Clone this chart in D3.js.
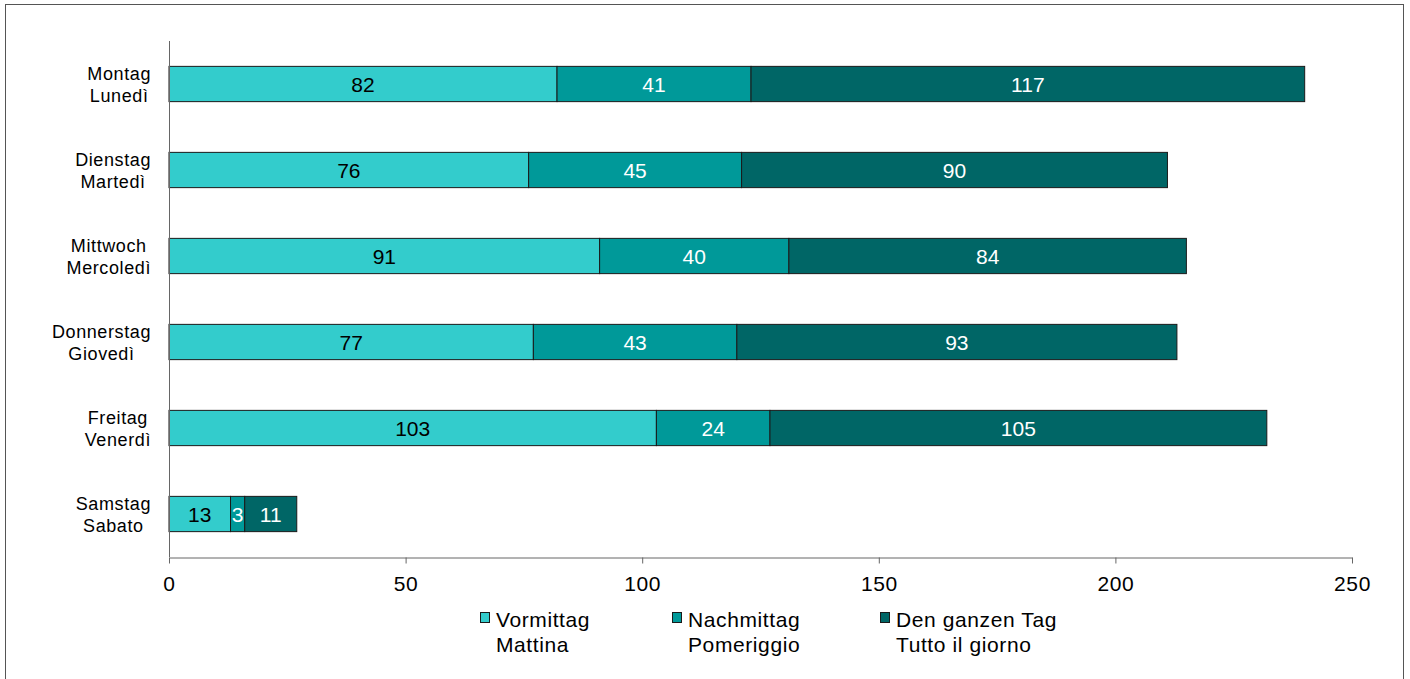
<!DOCTYPE html>
<html><head><meta charset="utf-8">
<script src="https://cdn.jsdelivr.net/npm/d3@7"></script>
<style>body{margin:0;background:#fff}svg{display:block;font-family:"Liberation Sans",Arial,sans-serif}</style>
</head><body><svg id="c" width="1410" height="679"></svg>
<script>
const days = [["Montag","Lunedì"],["Dienstag","Martedì"],["Mittwoch","Mercoledì"],["Donnerstag","Giovedì"],["Freitag","Venerdì"],["Samstag","Sabato"]];
const seriesNames = [["Vormittag","Mattina"],["Nachmittag","Pomeriggio"],["Den ganzen Tag","Tutto il giorno"]];
const vormittag = [82,76,91,77,103,13];
const nachmittag = [41,45,40,43,24,3];
const ganzerTag = [117,90,84,93,105,11];
const xTicks = [0,50,100,150,200,250];
const colors = ["#33CCCC","#009999","#006666"];
const labelColors = ["#000","#fff","#fff"];

const svg = d3.select("#c");
svg.append("rect").attr("x",5.5).attr("y",4.5).attr("width",1398).attr("height",680).attr("fill","none").attr("stroke","#555");

const x = d3.scaleLinear().domain([0,250]).range([169,1352]);
const y = d3.scaleBand().domain(d3.range(days.length)).range([41,557]).paddingInner(0.59).paddingOuter(0.295);

const rows = days.map((d,i)=>({i, vals:[vormittag[i],nachmittag[i],ganzerTag[i]]}));
const stack = d3.stack().keys([0,1,2]).value((d,k)=>d.vals[k])(rows);

stack.forEach((layer,k)=>{
  const g = svg.append("g");
  layer.forEach((s,i)=>{
    g.append("rect").attr("x",x(s[0])).attr("y",y(i)).attr("width",x(s[1])-x(s[0])).attr("height",y.bandwidth())
      .attr("fill",colors[k]).attr("stroke","#1a1a1a").attr("stroke-width",1);
    g.append("text").attr("x",(x(s[0])+x(s[1]))/2).attr("y",y(i)+y.bandwidth()/2+7.5)
      .attr("text-anchor","middle").attr("font-size",21).attr("fill",labelColors[k]).text(s.data.vals[k]);
  });
});

// y axis line
svg.append("line").attr("x1",169.5).attr("x2",169.5).attr("y1",41).attr("y2",557).attr("stroke","#666");
// x axis
const xa = svg.append("g").attr("transform","translate(0,557.5)")
  .call(d3.axisBottom(x).tickValues(xTicks).tickSize(6).tickSizeOuter(0));
xa.select(".domain").attr("stroke","#666");
xa.selectAll(".tick line").attr("stroke","#666");
xa.selectAll(".tick text").attr("font-size",21).attr("fill","#000").attr("dy","1.15em").attr("letter-spacing","0.6")
  .attr("font-family","Liberation Sans, Arial, sans-serif");

// category labels: block right-aligned at ~151, lines centred within block
days.forEach((d,i)=>{
  const t = svg.append("text").attr("text-anchor","middle").attr("font-size",18).attr("letter-spacing","0.6").attr("fill","#000");
  const cy = y(i)+y.bandwidth()/2;
  const a = t.append("tspan").attr("y",cy-4.5).text(d[0]);
  const b = t.append("tspan").attr("y",cy+17.5).text(d[1]);
  const w = Math.max(a.node().getComputedTextLength(), b.node().getComputedTextLength());
  const cx = 151 - w/2;
  a.attr("x",cx); b.attr("x",cx);
});

// legend
const lx = [480,672,880];
seriesNames.forEach((n,k)=>{
  svg.append("rect").attr("x",lx[k]+0.5).attr("y",612.5).attr("width",9).attr("height",10).attr("fill",colors[k]).attr("stroke","#1a1a1a");
  const t = svg.append("text").attr("font-size",21).attr("letter-spacing","0.6").attr("fill","#000");
  t.append("tspan").attr("x",lx[k]+16).attr("y",627).text(n[0]);
  t.append("tspan").attr("x",lx[k]+16).attr("y",652).text(n[1]);
});
</script></body></html>
